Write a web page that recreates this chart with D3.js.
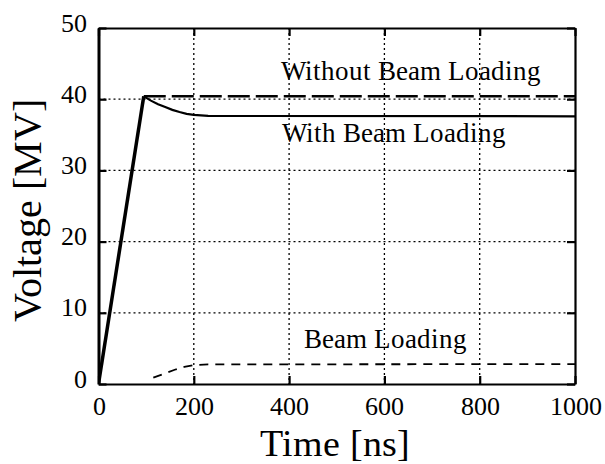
<!DOCTYPE html>
<html><head>
<script src="https://cdn.jsdelivr.net/npm/d3@7"></script>
<style>
@font-face{font-family:"ChartSerif";src:local("Liberation Serif"),local("LiberationSerif"),local("LiberationSerif-Regular"),local("Tinos"),local("DejaVu Serif");}
body{margin:0;background:#fff}
</style>
</head><body>
<svg id="c" width="605" height="464"></svg>
<script>
const xTicks = [0, 200, 400, 600, 800, 1000];
const yTicks = [0, 10, 20, 30, 40, 50];
const rampTime = [0, 95];
const rampV = [0, 40.4];
const withoutTime = [95, 1000];
const withoutV = [40.4, 40.4];
const withTime = [95, 110, 125, 140, 155, 170, 185, 200, 230, 1000];
const withV = [40.4, 39.8, 39.3, 38.9, 38.5, 38.2, 37.95, 37.8, 37.65, 37.6];
const beamTime = [115, 140, 160, 180, 200, 230, 1000];
const beamV = [0.9, 1.5, 2.0, 2.4, 2.65, 2.75, 2.8];
const labels = ["Without Beam Loading", "With Beam Loading", "Beam Loading"];

const FONT = '"ChartSerif", "Liberation Serif", "Times New Roman", Tinos, "DejaVu Serif"';
const L = 98.5, R = 575, T = 28, B = 384;
const x = d3.scaleLinear().domain([0, 1000]).range([L, R]);
const y = d3.scaleLinear().domain([0, 50]).range([B, T]);
const svg = d3.select("#c").style("font-family", FONT);

// grid
const g = svg.append("g");
g.selectAll("line.gx").data(xTicks.slice(1, -1)).join("line")
  .attr("x1", d => x(d)).attr("x2", d => x(d)).attr("y1", T).attr("y2", B)
  .attr("stroke", "#000").attr("stroke-width", 1.3).attr("stroke-dasharray", "2,3");
g.selectAll("line.gy").data(yTicks.slice(1, -1)).join("line")
  .attr("y1", d => y(d)).attr("y2", d => y(d)).attr("x1", L).attr("x2", R)
  .attr("stroke", "#000").attr("stroke-width", 1.3).attr("stroke-dasharray", "2,3");

// axes with inner ticks
const fmt = d3.format("d");
const axB = svg.append("g").attr("transform", `translate(0,${B})`)
  .call(d3.axisBottom(x).tickValues(xTicks).tickFormat(fmt).tickSizeInner(-8).tickSizeOuter(0).tickPadding(15));
const axL = svg.append("g").attr("transform", `translate(${L},0)`)
  .call(d3.axisLeft(y).tickValues(yTicks).tickFormat(fmt).tickSizeInner(-8).tickSizeOuter(0).tickPadding(12));
const axT = svg.append("g").attr("transform", `translate(0,${T})`)
  .call(d3.axisTop(x).tickValues(xTicks).tickSizeInner(-8).tickSizeOuter(0).tickFormat(""));
const axR = svg.append("g").attr("transform", `translate(${R},0)`)
  .call(d3.axisRight(y).tickValues(yTicks).tickSizeInner(-8).tickSizeOuter(0).tickFormat(""));
[axB, axL, axT, axR].forEach(a => {
  a.attr("font-family", null).attr("font-size", 26);
  a.select(".domain").attr("stroke", "#000").attr("stroke-width", 2.2);
  a.selectAll(".tick line").attr("stroke", "#000").attr("stroke-width", 2.2);
  a.selectAll("text").style("font-family", FONT).attr("fill", "#000");
});
axL.select(".domain").attr("stroke-width", 3);
axL.selectAll(".tick text").attr("dy", "0.12em");
axB.selectAll(".tick text").attr("dy", "0.62em");

// series
const line = d3.line().x(d => x(d[0])).y(d => y(d[1]));
const zip = (a, b) => a.map((t, i) => [t, b[i]]);
svg.append("clipPath").attr("id", "cp").append("rect")
  .attr("x", L).attr("y", T - 2).attr("width", R - L).attr("height", B - T + 2);
const s = svg.append("g").attr("clip-path", "url(#cp)");
s.append("path").attr("d", line(zip(rampTime, rampV))).attr("fill", "none")
  .attr("stroke", "#000").attr("stroke-width", 3.5);
s.append("path").attr("d", line(zip(withoutTime, withoutV))).attr("fill", "none")
  .attr("stroke", "#000").attr("stroke-width", 2.5).attr("stroke-dasharray", "22,6");
s.append("path").attr("d", line(zip(withTime, withV))).attr("fill", "none")
  .attr("stroke", "#000").attr("stroke-width", 2.2);
s.append("path").attr("d", line(zip(beamTime, beamV))).attr("fill", "none")
  .attr("stroke", "#000").attr("stroke-width", 1.8).attr("stroke-dasharray", "9,7");

// annotations
const ann = [[411, 80], [394, 142], [385, 348]];
svg.selectAll("text.ann").data(labels).join("text").attr("class", "ann")
  .attr("x", (d, i) => ann[i][0]).attr("y", (d, i) => ann[i][1])
  .attr("text-anchor", "middle").style("font-family", FONT).attr("font-size", 27)
  .attr("fill", "#000").text(d => d);

// axis titles
svg.append("text").attr("x", 335).attr("y", 456).attr("text-anchor", "middle")
  .style("font-family", FONT).attr("font-size", 38).attr("fill", "#000").text("Time [ns]");
svg.append("text").attr("transform", "translate(41,210) rotate(-90)")
  .attr("text-anchor", "middle").style("font-family", FONT).attr("font-size", 40)
  .attr("fill", "#000").text("Voltage [MV]");
</script>
</body></html>
